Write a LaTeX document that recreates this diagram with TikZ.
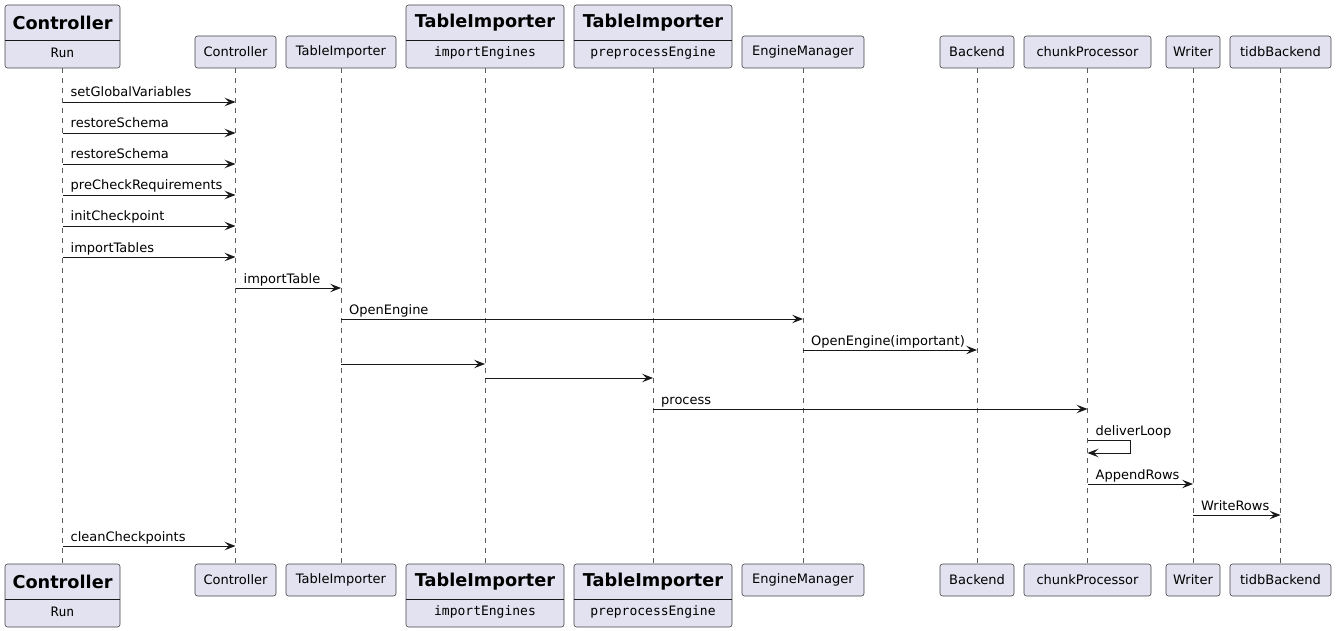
\documentclass[tikz,border=0pt]{standalone}
\usepackage{fontspec}
\setmainfont{DejaVu Sans}
\newfontfamily\monof{DejaVu Sans Mono}
\usetikzlibrary{arrows.meta}
\definecolor{pfill}{HTML}{E2E2F0}
\definecolor{pline}{HTML}{181818}
\newcommand\seqmsg[4]{%
  \draw[msgline] (#1.south |- 0,#3) -- (#2.south |- 0,#3);
  \path (#1.south |- 0,#3) ++(8,-5) node[lbl,anchor=base west] {#4};}
\newcommand\seqarrow[3]{%
  \draw[msgline] (#1.south |- 0,#3) -- (#2.south |- 0,#3);}
\begin{document}
\begin{tikzpicture}[x=1pt,y=-1pt,
  box/.style={draw=pline!80, fill=pfill, rounded corners=2.5pt, line width=0.6pt, inner sep=0pt},
  simple/.style={box, minimum height=32pt, font=\fontsize{13}{15}\selectfont},
  ttl/.style={inner sep=0pt, font=\fontsize{17.7}{20}\selectfont\bfseries},
  sub/.style={inner sep=0pt, font=\fontsize{13}{15}\selectfont\monof},
  lbl/.style={inner sep=0pt, font=\fontsize{13}{15}\selectfont},
  life/.style={draw=pline!70, line width=0.6pt, dash pattern=on 5pt off 5pt},
  msgline/.style={draw=pline, line width=0.9pt, -{Stealth[length=11pt,width=8.5pt,inset=4.5pt]}}
]
\useasboundingbox (0,0) rectangle (1336,631);
\fill[white] (0,0) rectangle (1336,631);

% ---------- top participants ----------
\node[box, minimum width=115pt, minimum height=63pt] (run-top) at (62.5,36.5) {};
\node[ttl] at (62.5,23) {Controller};
\node[sub] at (62.5,53) {Run};
\draw[pline, line width=0.8pt] (5,40) -- (120,40);

\node[simple, minimum width=81pt] (ctl-top) at (235.5,52) {Controller};
\node[simple, minimum width=110pt] (ti-top) at (341,52) {TableImporter};

\node[box, minimum width=158pt, minimum height=63pt] (ie-top) at (485,36.5) {};
\node[ttl] at (485,23) {TableImporter};
\node[sub] at (485,53) {importEngines};
\draw[pline, line width=0.8pt] (406,40) -- (564,40);

\node[box, minimum width=158pt, minimum height=63pt] (pe-top) at (653,36.5) {};
\node[ttl] at (653,23) {TableImporter};
\node[sub] at (653,53) {preprocessEngine};
\draw[pline, line width=0.8pt] (574,40) -- (732,40);

\node[simple, minimum width=122pt] (em-top) at (803,52) {EngineManager};
\node[simple, minimum width=74pt] (be-top) at (977,52) {Backend};
\node[simple, minimum width=127pt] (cp-top) at (1087.5,52) {chunkProcessor};
\node[simple, minimum width=54pt] (wr-top) at (1193,52) {Writer};
\node[simple, minimum width=101pt] (tb-top) at (1280.5,52) {tidbBackend};

% ---------- bottom participants ----------
\node[box, minimum width=115pt, minimum height=63pt] (run-bot) at (62.5,595.5) {};
\node[ttl] at (62.5,582) {Controller};
\node[sub] at (62.5,612) {Run};
\draw[pline, line width=0.8pt] (5,599) -- (120,599);

\node[simple, minimum width=81pt] (ctl-bot) at (235.5,580) {Controller};
\node[simple, minimum width=110pt] (ti-bot) at (341,580) {TableImporter};

\node[box, minimum width=158pt, minimum height=63pt] (ie-bot) at (485,595.5) {};
\node[ttl] at (485,582) {TableImporter};
\node[sub] at (485,612) {importEngines};
\draw[pline, line width=0.8pt] (406,599) -- (564,599);

\node[box, minimum width=158pt, minimum height=63pt] (pe-bot) at (653,595.5) {};
\node[ttl] at (653,582) {TableImporter};
\node[sub] at (653,612) {preprocessEngine};
\draw[pline, line width=0.8pt] (574,599) -- (732,599);

\node[simple, minimum width=122pt] (em-bot) at (803,580) {EngineManager};
\node[simple, minimum width=74pt] (be-bot) at (977,580) {Backend};
\node[simple, minimum width=127pt] (cp-bot) at (1087.5,580) {chunkProcessor};
\node[simple, minimum width=54pt] (wr-bot) at (1193,580) {Writer};
\node[simple, minimum width=101pt] (tb-bot) at (1280.5,580) {tidbBackend};

% ---------- lifelines ----------
\foreach \p in {run,ctl,ti,ie,pe,em,be,cp,wr,tb}
  \draw[life] (\p-top.south) -- (\p-bot.north);

% ---------- messages ----------
\seqmsg{run-top}{ctl-top}{102}{setGlobalVariables}
\seqmsg{run-top}{ctl-top}{133}{restoreSchema}
\seqmsg{run-top}{ctl-top}{164}{restoreSchema}
\seqmsg{run-top}{ctl-top}{195}{preCheckRequirements}
\seqmsg{run-top}{ctl-top}{226}{initCheckpoint}
\seqmsg{run-top}{ctl-top}{257}{importTables}
\seqmsg{ctl-top}{ti-top}{288}{importTable}
\seqmsg{ti-top}{em-top}{319}{OpenEngine}
\seqmsg{em-top}{be-top}{350}{OpenEngine(important)}
\seqarrow{ti-top}{ie-top}{364}
\seqarrow{ie-top}{pe-top}{378}
\seqmsg{pe-top}{cp-top}{409}{process}
\draw[msgline] (cp-top.south |- 0,440) -- ++(43,0) -- ++(0,13) -- ++(-43,0);
\path (cp-top.south |- 0,440) ++(8,-5) node[lbl,anchor=base west] {deliverLoop};
\seqmsg{cp-top}{wr-top}{484}{AppendRows}
\seqmsg{wr-top}{tb-top}{515}{WriteRows}
\seqmsg{run-top}{ctl-top}{546}{cleanCheckpoints}
\end{tikzpicture}
\end{document}
